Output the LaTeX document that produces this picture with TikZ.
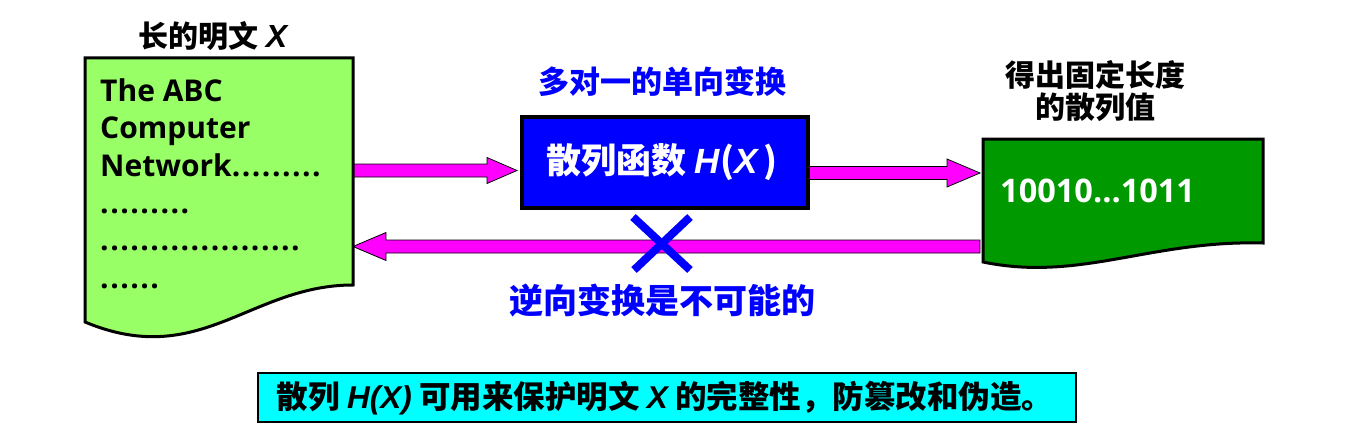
\documentclass[tikz,border=0pt]{standalone}
\usepackage{fontspec}
\usetikzlibrary{calc}
\newfontfamily\cjk{Noto Sans CJK SC}
\newfontfamily\lat{Open Sans}
\newfontfamily\latdots{Open Sans}[LetterSpace=5]
\newfontfamily\ari{Liberation Sans}
\definecolor{lgreen}{HTML}{99FF66}
\definecolor{dgreen}{HTML}{009900}
\definecolor{pblue}{HTML}{0000FF}
\definecolor{pmag}{HTML}{FF00FF}
\definecolor{pcyan}{HTML}{00FFFF}
\newcommand\fsz[1]{\fontsize{#1}{#1}\selectfont}
\newcommand\ix[1]{{\ari\bfseries\itshape #1}}
% block arrow pointing right: from, to, shaft half, head half, head length
\newcommand\blockR[5]{\path[arr] let \p1=(#1), \p2=(#2) in
  (\x1,\y1+#3) -- (\x2-#5,\y1+#3) -- (\x2-#5,\y1+#4) -- (\x2,\y1) --
  (\x2-#5,\y1-#4) -- (\x2-#5,\y1-#3) -- (\x1,\y1-#3) -- cycle;}
% block arrow pointing left: from (flat end), to (tip)
\newcommand\blockL[5]{\path[arr] let \p1=(#1), \p2=(#2) in
  (\x1,\y1+#3) -- (\x2+#5,\y1+#3) -- (\x2+#5,\y1+#4) -- (\x2,\y1) --
  (\x2+#5,\y1-#4) -- (\x2+#5,\y1-#3) -- (\x1,\y1-#3) -- cycle;}
\begin{document}
\begin{tikzpicture}[x=1pt,y=-1pt,
  doc/.style={draw=black, line width=3pt, line join=miter},
  arr/.style={fill=pmag, draw=black, line width=0.8pt},
  cjkb/.style={font=\cjk\bfseries\fsz{#1}, inner sep=0pt},
  latb/.style={font=\lat\bfseries\fsz{30}, inner sep=0pt, anchor=base west},
  dotb/.style={font=\latdots\bfseries\fsz{30}, inner sep=0pt, anchor=base west},
  cross/.style={draw=pblue, line width=8pt}]
\useasboundingbox (0,0) rectangle (1348,441);

% named connection points
\coordinate (docLe1) at (353,170.5);
\coordinate (docLe2) at (353,246.5);
\coordinate (boxW) at (517,170.5);
\coordinate (boxE) at (808,173);
\coordinate (docRw1) at (980,173);
\coordinate (docRw2) at (980,246.5);

% arrows
\blockR{docLe1}{boxW}{6.5pt}{13pt}{30}
\blockR{boxE}{docRw1}{6.5pt}{14pt}{33}
\blockL{docRw2}{docLe2}{6.5pt}{14pt}{33}

% left document
\path[doc, fill=lgreen] (85,58) -- (85,322) .. controls (200,370) and (250,285) .. (353,285) -- (353,58) -- cycle;
\node[cjkb=30] (titleL) at (213,36) {长的明文 {\fsz{32}\ix{X}}};
\node[latb] (l1) at (100,102) {The ABC};
\node[latb] (l2) at (100,139) {Computer};
\node[latb] (l3) at (100,176) {Network{\latdots.........}};
\node[dotb] (l4) at (100,213) {.........};
\node[dotb] (l5) at (100,250) {....................};
\node[dotb] (l6) at (100,288) {......};

% hash box
\node[draw=black, line width=3.5pt, fill=pblue, minimum width=286pt, minimum height=91pt, inner sep=0pt] (hbox) at (665,162.5) {};
\node[cjkb=35, text=white] (htext) at (662,162) {散列函数 \ix{H}(\ix{X\,})};
\node[cjkb=31, text=pblue] (many) at (662,81.5) {多对一的单向变换};

% right document
\path[doc, fill=dgreen] (983,139) -- (983,262) .. controls (1080,282) and (1150,240) .. (1263,243) -- (1263,139) -- cycle;
\node[font=\lat\bfseries\fsz{32.5}, text=white, inner sep=0pt, anchor=base west] (hv) at (1000,202) {10010...1011};
\node[cjkb=30, align=center] (fixed) at (1095,91) {得出固定长度\\[2pt]的散列值};

% cross
\coordinate (c1) at (633,217);
\coordinate (c2) at (690,270);
\coordinate (c3) at (690,217);
\coordinate (c4) at (634,270);
\draw[cross] (c1) -- (c2);
\draw[cross] (c3) -- (c4);
\node[cjkb=34, text=pblue] (nrev) at (662,301) {逆向变换是不可能的};

% bottom note
\node[draw=black, line width=1.2pt, fill=pcyan, minimum width=818pt, minimum height=49pt, inner sep=0pt] (note) at (667,397.5) {};
\node[cjkb=31.5] (notet) at (665,398) {散列 \ix{H(X)} 可用来保护明文 \ix{X} 的完整性，防篡改和伪造。};
\end{tikzpicture}
\end{document}
